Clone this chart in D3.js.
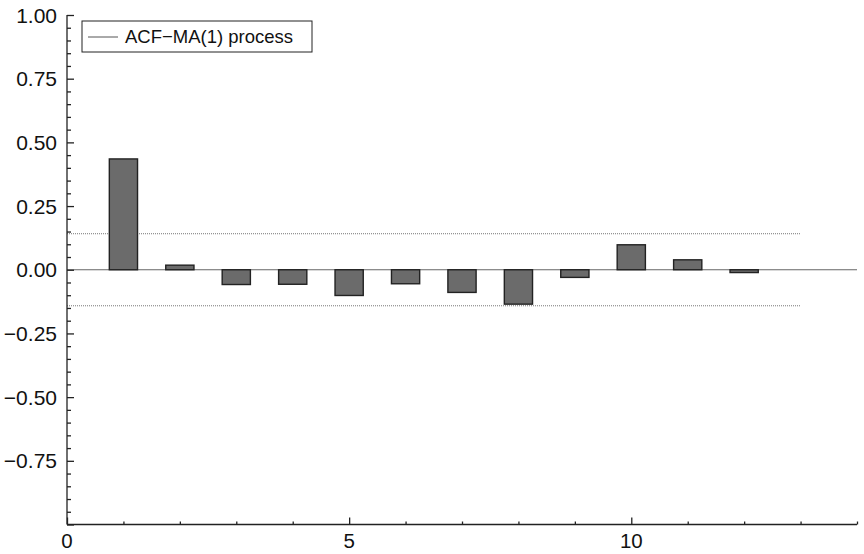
<!DOCTYPE html>
<html><head><meta charset="utf-8">
<script src="https://cdn.jsdelivr.net/npm/d3@7"></script>
<style>body{margin:0;background:#fff}text{font-family:"Liberation Sans",Arial,Helvetica,sans-serif;fill:#111}</style>
</head><body><svg id="c" width="864" height="554"></svg>
<script>
const lags = [1,2,3,4,5,6,7,8,9,10,11,12];
const acf = [0.435,0.018,-0.058,-0.057,-0.101,-0.055,-0.089,-0.135,-0.030,0.098,0.039,-0.011];
const confBand = [0.1414,-0.1414];
const yMajorTicks = [-0.75,-0.5,-0.25,0,0.25,0.5,0.75,1];
const xMajorTicks = [0,5,10];
const legendLabel = "ACF\u2212MA(1) process";

const svg = d3.select("#c");
const x = d3.scaleLinear().domain([0,14]).range([67,857]);
const y = d3.scaleLinear().domain([-1,1]).range([524.5,15]);
const fmt = v => (v<0?"\u2212":"") + Math.abs(v).toFixed(2);

// zero line
svg.append("line").attr("x1",x(0)).attr("x2",x(14)).attr("y1",y(0)).attr("y2",y(0))
  .attr("stroke","#666").attr("stroke-width",1.2);
// confidence band
svg.selectAll(".band").data(confBand).enter().append("line")
  .attr("x1",x(0)).attr("x2",x(13)).attr("y1",d=>y(d)).attr("y2",d=>y(d))
  .attr("stroke","#777").attr("stroke-width",1).attr("stroke-dasharray","1,1");
// bars
svg.selectAll(".bar").data(lags).enter().append("rect")
  .attr("x",(d)=>x(d-0.25)).attr("width",x(0.5)-x(0))
  .attr("y",(d,i)=>y(Math.max(0,acf[i]))).attr("height",(d,i)=>Math.abs(y(acf[i])-y(0)))
  .attr("fill","#6b6b6b").attr("stroke","#222").attr("stroke-width",1.4);

// y axis
const yAxis = d3.axisRight(y).tickValues(d3.range(-20,21).map(v=>v*0.05).filter(v=>v>-1.0001&&v<1.0001))
  .tickSize(4).tickFormat("");
const ga = svg.append("g").attr("transform",`translate(${x(0)},0)`).call(yAxis);
ga.selectAll(".tick line").attr("x2",d=>yMajorTicks.concat([-1]).some(m=>Math.abs(m-d)<1e-6)?7:4);
ga.select(".domain").attr("d",`M0,${y(1)}V${y(-1)}`);
svg.selectAll(".ylab").data(yMajorTicks).enter().append("text")
  .attr("x",57).attr("y",d=>y(d)).attr("dy","0.36em").attr("text-anchor","end")
  .attr("font-size",21).text(fmt);

// x axis
const xAxis = d3.axisTop(x).tickValues(d3.range(0,15)).tickSize(3).tickFormat("");
const gx = svg.append("g").attr("transform",`translate(0,${y(-1)})`).call(xAxis);
gx.selectAll(".tick line").attr("y2",d=>xMajorTicks.includes(d)?-7:-3);
gx.select(".domain").attr("d",`M${x(0)},0H${x(14)}`);
svg.selectAll(".xlab").data(xMajorTicks).enter().append("text")
  .attr("x",d=>x(d)).attr("y",548).attr("text-anchor","middle")
  .attr("font-size",20.5).text(d=>d);
svg.selectAll(".domain,.tick line").attr("stroke","#222").attr("stroke-width",1.3);

// legend
const lg = svg.append("g");
lg.append("rect").attr("x",82).attr("y",21).attr("width",230).attr("height",31)
  .attr("fill","#fff").attr("stroke","#222").attr("stroke-width",1);
lg.append("line").attr("x1",88).attr("x2",118).attr("y1",37).attr("y2",37).attr("stroke","#555").attr("stroke-width",1);
lg.append("text").attr("x",125).attr("y",43).attr("font-size",18.5).text(legendLabel);
</script></body></html>
